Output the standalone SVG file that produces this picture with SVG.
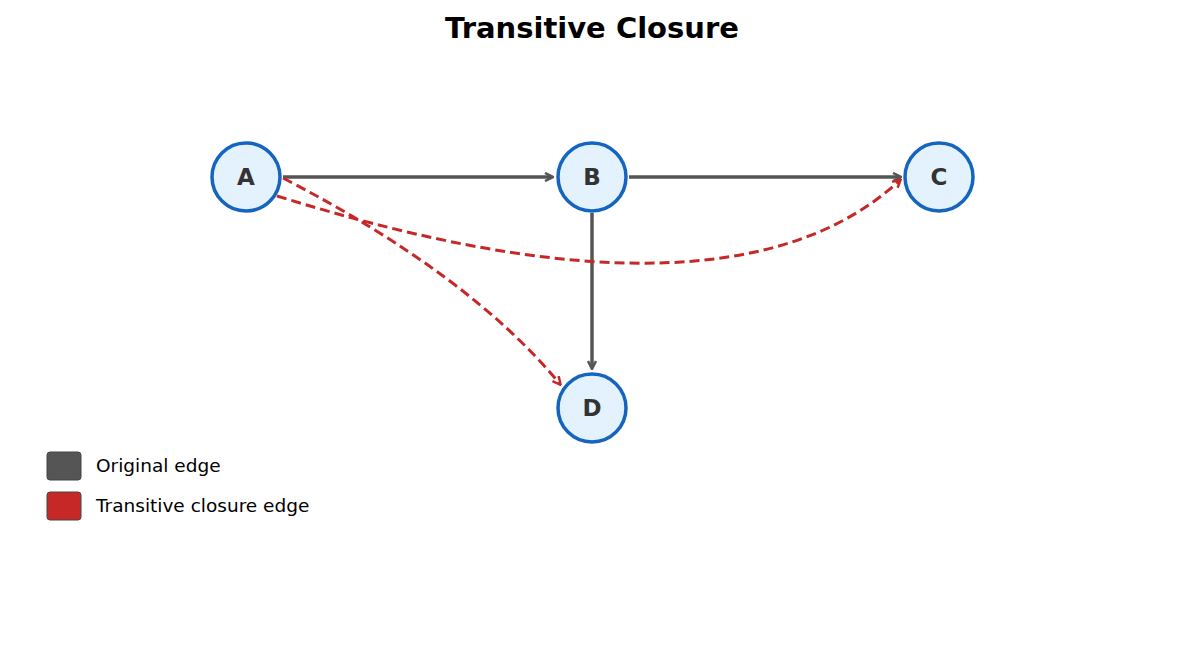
<svg xmlns="http://www.w3.org/2000/svg" width="1185" height="654" viewBox="0 0 1185 654">
<style>
.node circle{fill:#e3f2fd;stroke:#1565c0;stroke-width:3.5}
.node text{font-family:"DejaVu Sans",sans-serif;font-weight:bold;font-size:23px;fill:#333;text-anchor:middle;dominant-baseline:central}
.orig{stroke:#555;stroke-width:3.5;fill:none;marker-end:url(#ag)}
.tc{stroke:#c62828;stroke-width:3;fill:none;stroke-dasharray:10,5;marker-end:url(#ar)}
.lg{font-family:"DejaVu Sans",sans-serif;font-size:18.5px;fill:#000}
</style>
<defs>
<marker id="ag" markerWidth="10" markerHeight="10" refX="8" refY="5" orient="auto" markerUnits="userSpaceOnUse"><path d="M1,1 L9,5 L1,9" fill="none" stroke="#555" stroke-width="2.5"/></marker>
<marker id="ar" markerWidth="10" markerHeight="10" refX="8" refY="5" orient="auto" markerUnits="userSpaceOnUse"><path d="M1,1 L9,5 L1,9" fill="none" stroke="#c62828" stroke-width="2.5"/></marker>
</defs>
<rect width="1185" height="654" fill="#fff"/>
<text x="592" y="38" font-family="DejaVu Sans,sans-serif" font-weight="bold" font-size="29" text-anchor="middle">Transitive Closure</text>
<g id="connectors">
<path class="orig" d="M283,177 L552,177"/>
<path class="orig" d="M629,177 L900,177"/>
<path class="orig" d="M592,213 L592,368"/>
<path class="tc" d="M277,196 C420,240 740,330 900,180"/>
<path class="tc" d="M283,178 Q470,275 560,384"/>
</g>
<g id="A" class="node"><circle cx="246" cy="177" r="34"/><text x="246" y="177">A</text></g>
<g id="B" class="node"><circle cx="592" cy="177" r="34"/><text x="592" y="177">B</text></g>
<g id="C" class="node"><circle cx="939" cy="177" r="34"/><text x="939" y="177">C</text></g>
<g id="D" class="node"><circle cx="592" cy="408" r="34"/><text x="592" y="408">D</text></g>
<g id="legend">
<rect x="47" y="452" width="34" height="28" rx="3" fill="#555" stroke="#444"/>
<text class="lg" x="96" y="472">Original edge</text>
<rect x="47" y="492" width="34" height="28" rx="3" fill="#c62828" stroke="#444"/>
<text class="lg" x="96" y="512">Transitive closure edge</text>
</g>
</svg>
